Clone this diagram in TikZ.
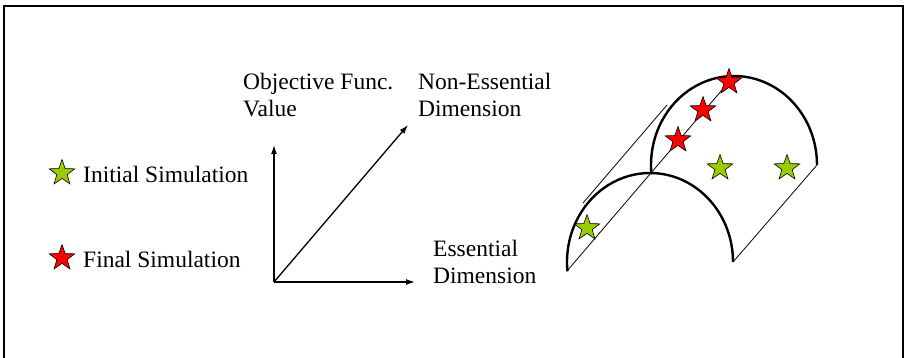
\documentclass[tikz,border=0pt]{standalone}
\usepackage{fontspec}
\setmainfont{Liberation Serif}
\usetikzlibrary{arrows.meta,calc,shapes.geometric}
\definecolor{StarGreen}{rgb}{0.6,0.8,0}
\definecolor{StarRed}{rgb}{1,0,0}

\begin{document}
\begin{tikzpicture}[x=1pt,y=-1pt,
  every node/.style={font=\fontsize{23.5}{27}\selectfont,inner sep=0pt},
  simstar/.style={star,star points=5,star point ratio=2.5,minimum size=27pt,
    draw=black,line width=0.6pt,inner sep=0pt},
  axis/.style={line width=1.3pt,-{Latex[length=9pt,width=6pt]}},
  arch/.style={line width=2.4pt},
  rule/.style={line width=0.8pt}]
\useasboundingbox (0,0) rectangle (907,358);

% frame
\draw[line width=1.4pt] (4,358) -- (4,6) -- (903,6) -- (903,358);

% legend
\node[simstar,fill=StarGreen] (initstar) at (62,173) {};
\node[anchor=base west] (initlbl) at (83,183) {Initial Simulation};
\node[simstar,fill=StarRed] (finalstar) at (62,258) {};
\node[anchor=base west] (finallbl) at (83,267) {Final Simulation};

% axes
\coordinate (O) at (274,282);
\coordinate (Yend) at (274,145);
\coordinate (Xend) at (415,282);
\coordinate (Zend) at (408,125);

\draw[axis] (O) -- (Yend);
\draw[axis] (O) -- (Xend);
\draw[axis] (O) -- (Zend);

% base of a two-line label is the baseline of its last line
\node[anchor=base west,align=left] (objlbl) at (243,117) {Objective Func.\\Value};
\node[anchor=base west,align=left] (nonesslbl) at (418,117) {Non-Essential\\Dimension};
\node[anchor=base west,align=left] (esslbl) at (433,283) {Essential\\Dimension};

% surface
\coordinate (fc) at (650,262);
\coordinate (fr) at (733,262);
\coordinate (fl) at (567,271);
\coordinate (ft) at (650,173);

\begin{scope}[shift={(84,-97)}]
\coordinate (br) at (733,262);
\coordinate (bt) at (650,173);
\end{scope}

\draw[rule] (fl) -- (bt);
\draw[rule] (fr) -- (br);
\draw[rule] (583,203) -- (667,105);

\draw[arch] (fr) arc[start angle=0,end angle=-186,x radius=83,y radius=89];
\draw[arch] (br) arc[start angle=0,end angle=-186,x radius=83,y radius=89];

\node[simstar,fill=StarRed] (fin1) at (729,82) {};
\node[simstar,fill=StarRed] (fin2) at (703,110) {};
\node[simstar,fill=StarRed] (fin3) at (678,140) {};
\node[simstar,fill=StarGreen] (init1) at (720,168) {};
\node[simstar,fill=StarGreen] (init2) at (787,168) {};
\node[simstar,fill=StarGreen] (init3) at (587,228) {};

\end{tikzpicture}
\end{document}
